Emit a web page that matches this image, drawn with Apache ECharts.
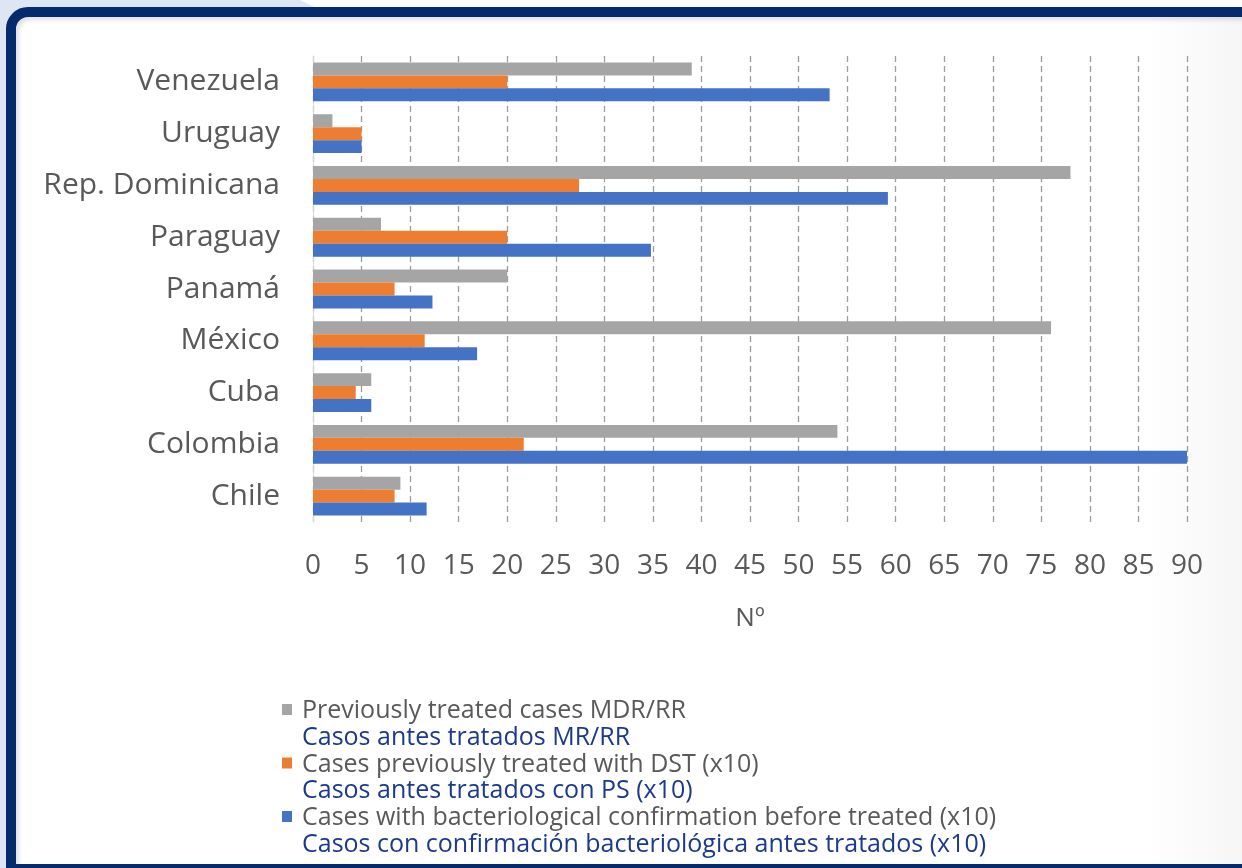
<!DOCTYPE html>
<html>
<head>
<meta charset="utf-8">
<script src="https://cdn.jsdelivr.net/npm/echarts@6/dist/echarts.min.js"></script>
<style>
  html, body { margin: 0; padding: 0; width: 1242px; height: 868px; overflow: hidden; background: #ffffff; }
  #tint { position: absolute; left: 0; top: 0; width: 360px; height: 868px; background: #dde6f2;
          clip-path: polygon(0 0, 300px 0, 340px 20px, 340px 868px, 0 868px); }
  #frame { position: absolute; left: 6px; top: 7px; width: 1300px; height: 867px; box-sizing: border-box;
           border: 10px solid #042b6e; border-top-left-radius: 22px;
           background: linear-gradient(90deg, #ffffff 0%, #ffffff 88%, #f1f1f1 100%);
           box-shadow: inset 3px 3px 4px rgba(0,0,0,0.12); }
  #chart { position: absolute; left: 0; top: 0; width: 1242px; height: 868px; }
</style>
</head>
<body>
<div id="tint"></div>
<div id="frame"></div>
<div id="chart"></div>
<script>
// Countries, listed bottom-to-top as they appear on the category axis
const countries = ['Chile', 'Colombia', 'Cuba', 'México', 'Panamá', 'Paraguay', 'Rep. Dominicana', 'Uruguay', 'Venezuela'];

// Previously treated cases MDR/RR
const mdrRr = [9, 54, 6, 76, 20, 7, 78, 2, 39];
// Cases previously treated with DST (x10)
const withDst = [8.4, 21.7, 4.4, 11.5, 8.4, 20, 27.4, 5, 20];
// Cases with bacteriological confirmation before treated (x10)
const bactConfirmed = [11.7, 90, 6, 16.9, 12.3, 34.8, 59.2, 5, 53.2];

const seriesNamesEn = [
  'Previously treated cases MDR/RR',
  'Cases previously treated with DST (x10)',
  'Cases with bacteriological confirmation before treated (x10)'
];
const seriesNamesEs = [
  'Casos antes tratados MR/RR',
  'Casos antes tratados con PS (x10)',
  'Casos con confirmación bacteriológica antes tratados (x10)'
];
const xTicks = { min: 0, max: 90, step: 5 };
const xAxisName = 'Nº';

const colors = ['#a5a5a5', '#ed7d31', '#4472c4'];
const valueSets = [mdrRr, withDst, bactConfirmed];

const chart = echarts.init(document.getElementById('chart'), null, { renderer: 'canvas' });

const labelFont = "'Open Sans', 'Noto Sans', sans-serif";

chart.setOption({
  backgroundColor: 'transparent',
  animation: false,
  grid: { left: 313, right: 55, top: 56, bottom: 346, containLabel: false },
  xAxis: {
    type: 'value',
    min: xTicks.min,
    max: xTicks.max,
    interval: xTicks.step,
    axisLine: { show: false },
    axisTick: { show: false },
    splitLine: { show: true, lineStyle: { color: '#9c9c9c', width: 1.3, type: [6, 4] } },
    axisLabel: { color: '#595959', fontSize: 28, fontFamily: labelFont, margin: 30 },
    name: xAxisName,
    nameLocation: 'middle',
    nameGap: 84,
    nameTextStyle: { color: '#595959', fontSize: 26, fontFamily: labelFont }
  },
  yAxis: {
    type: 'category',
    data: countries,
    axisLine: { show: true, lineStyle: { color: '#d9d9d9', width: 1 } },
    axisTick: { show: false },
    axisLabel: { color: '#595959', fontSize: 30, fontFamily: labelFont, margin: 33 }
  },
  legend: {
    orient: 'vertical',
    left: 282,
    top: 698,
    padding: 0,
    itemGap: 0.5,
    itemWidth: 15,
    itemHeight: 53,
    data: seriesNamesEn.map(function (n) {
      return { name: n, icon: 'path://M0,6h10v11h-10z M0,0h0.01 M15,53h0.01' };
    }),
    formatter: function (name) {
      const i = seriesNamesEn.indexOf(name);
      return '{en|' + name + '}\n{es|' + seriesNamesEs[i] + '}';
    },
    textStyle: {
      rich: {
        en: { color: '#595959', fontSize: 25, lineHeight: 26.5, fontFamily: labelFont },
        es: { color: '#1b3a8c', fontSize: 25, lineHeight: 26.5, fontFamily: labelFont }
      }
    }
  },
  series: valueSets.map(function (vals, i) {
    return {
      type: 'bar',
      name: seriesNamesEn[i],
      data: vals,
      barGap: '0%',
      barCategoryGap: '25%',
      itemStyle: { color: colors[i] }
    };
  })
});
</script>
</body>
</html>
